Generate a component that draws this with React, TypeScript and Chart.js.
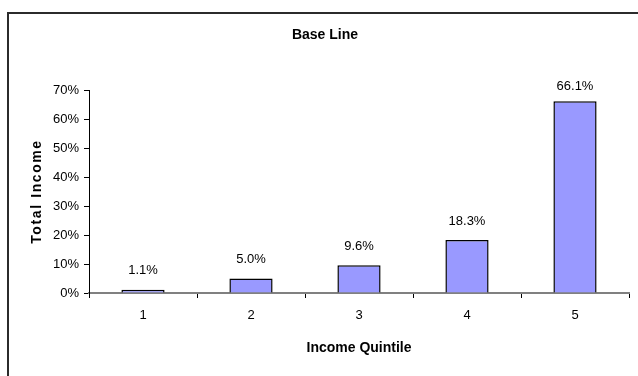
import React, { useEffect, useRef } from "react";
import { Chart, registerables } from "chart.js";

Chart.register(...registerables);

const quintiles = ["1", "2", "3", "4", "5"];
const shareOfIncome = [1.1, 5.0, 9.6, 18.3, 66.1];
const yTicks = [0, 10, 20, 30, 40, 50, 60, 70];

const FONT = "'Liberation Sans', Arial, Helvetica, sans-serif";

// Writes the value label above each bar.
const valueLabels = {
  id: "valueLabels",
  afterDatasetsDraw(chart: any) {
    const { ctx, chartArea } = chart;
    const meta = chart.getDatasetMeta(0);
    ctx.save();
    ctx.font = `13px ${FONT}`;
    ctx.fillStyle = "#000";
    ctx.textAlign = "center";
    ctx.textBaseline = "middle";
    meta.data.forEach((bar: any, i: number) => {
      const v = shareOfIncome[i];
      const y = Math.max(bar.y - 19, chartArea.top - 4);
      ctx.fillText(v.toFixed(1) + "%", bar.x, y);
    });
    ctx.restore();
  },
};

export default function App() {
  const canvasRef = useRef<HTMLCanvasElement | null>(null);

  useEffect(() => {
    document.body.style.margin = "0";
    const canvas = canvasRef.current;
    if (!canvas) return;
    const chart = new Chart(canvas, {
      type: "bar",
      data: {
        labels: quintiles,
        datasets: [
          {
            data: shareOfIncome,
            backgroundColor: "#9999FF",
            borderColor: "#000000",
            borderWidth: 1.5,
            categoryPercentage: 1,
            barPercentage: 0.4,
          },
        ],
      },
      options: {
        responsive: false,
        animation: false,
        layout: { padding: { top: 0, right: 9, bottom: 0, left: 21 } },
        plugins: {
          legend: { display: false },
          tooltip: { enabled: false },
          title: {
            display: true,
            text: "Base Line",
            color: "#000",
            font: { family: FONT, size: 14, weight: "bold" },
            padding: { top: 26.6, bottom: 46.6 },
          },
        },
        scales: {
          x: {
            grid: {
              display: true,
              drawOnChartArea: false,
              color: "#000",
              tickLength: 5,
              offset: true,
            },
            border: { display: true, color: "#808080", width: 2 },
            ticks: {
              color: "#000",
              font: { family: FONT, size: 13 },
              padding: 10,
            },
            title: {
              display: true,
              text: "Income Quintile",
              color: "#000",
              font: { family: FONT, size: 14, weight: "bold" },
              padding: { top: 0, bottom: 19.6 },
            },
            afterFit(scale: any) {
              scale.height = 83;
            },
          },
          y: {
            min: 0,
            max: 70,
            afterBuildTicks(scale: any) {
              scale.ticks = yTicks.map((v) => ({ value: v }));
            },
            grid: {
              display: true,
              drawOnChartArea: false,
              color: "#000",
              tickLength: 5,
            },
            border: { display: true, color: "#000", width: 1 },
            ticks: {
              color: "#000",
              font: { family: FONT, size: 13 },
              padding: 5,
              callback: (v: any) => v + "%",
            },
            title: {
              display: true,
              text: "Total Income",
              color: "#000",
              font: { family: FONT, size: 14, weight: "bold" },
              padding: { top: 7.6, bottom: 0 },
            },
            afterFit(scale: any) {
              scale.width = 68;
              // draw the axis title with a little extra tracking
              if (!scale._spacedTitle) {
                const drawTitle = scale.drawTitle;
                scale.drawTitle = function (...args: any[]) {
                  const ctx = this.ctx;
                  ctx.save();
                  ctx.letterSpacing = "1.6px";
                  drawTitle.apply(this, args);
                  ctx.restore();
                };
                scale._spacedTitle = true;
              }
            },
          },
        },
      },
      plugins: [valueLabels],
    });
    return () => chart.destroy();
  }, []);

  return (
    <div
      style={{
        position: "fixed",
        left: 0,
        top: 0,
        width: 638,
        height: 376,
        overflow: "hidden",
        background: "#fff",
      }}
    >
      <div
        style={{
          position: "absolute",
          left: 7,
          top: 12,
          width: 700,
          height: 400,
          borderLeft: "2px solid #2b2b2b",
          borderTop: "2px solid #2b2b2b",
        }}
      />
      <canvas
        ref={canvasRef}
        width={638}
        height={376}
        style={{ position: "absolute", left: 0, top: 0 }}
      />
    </div>
  );
}
